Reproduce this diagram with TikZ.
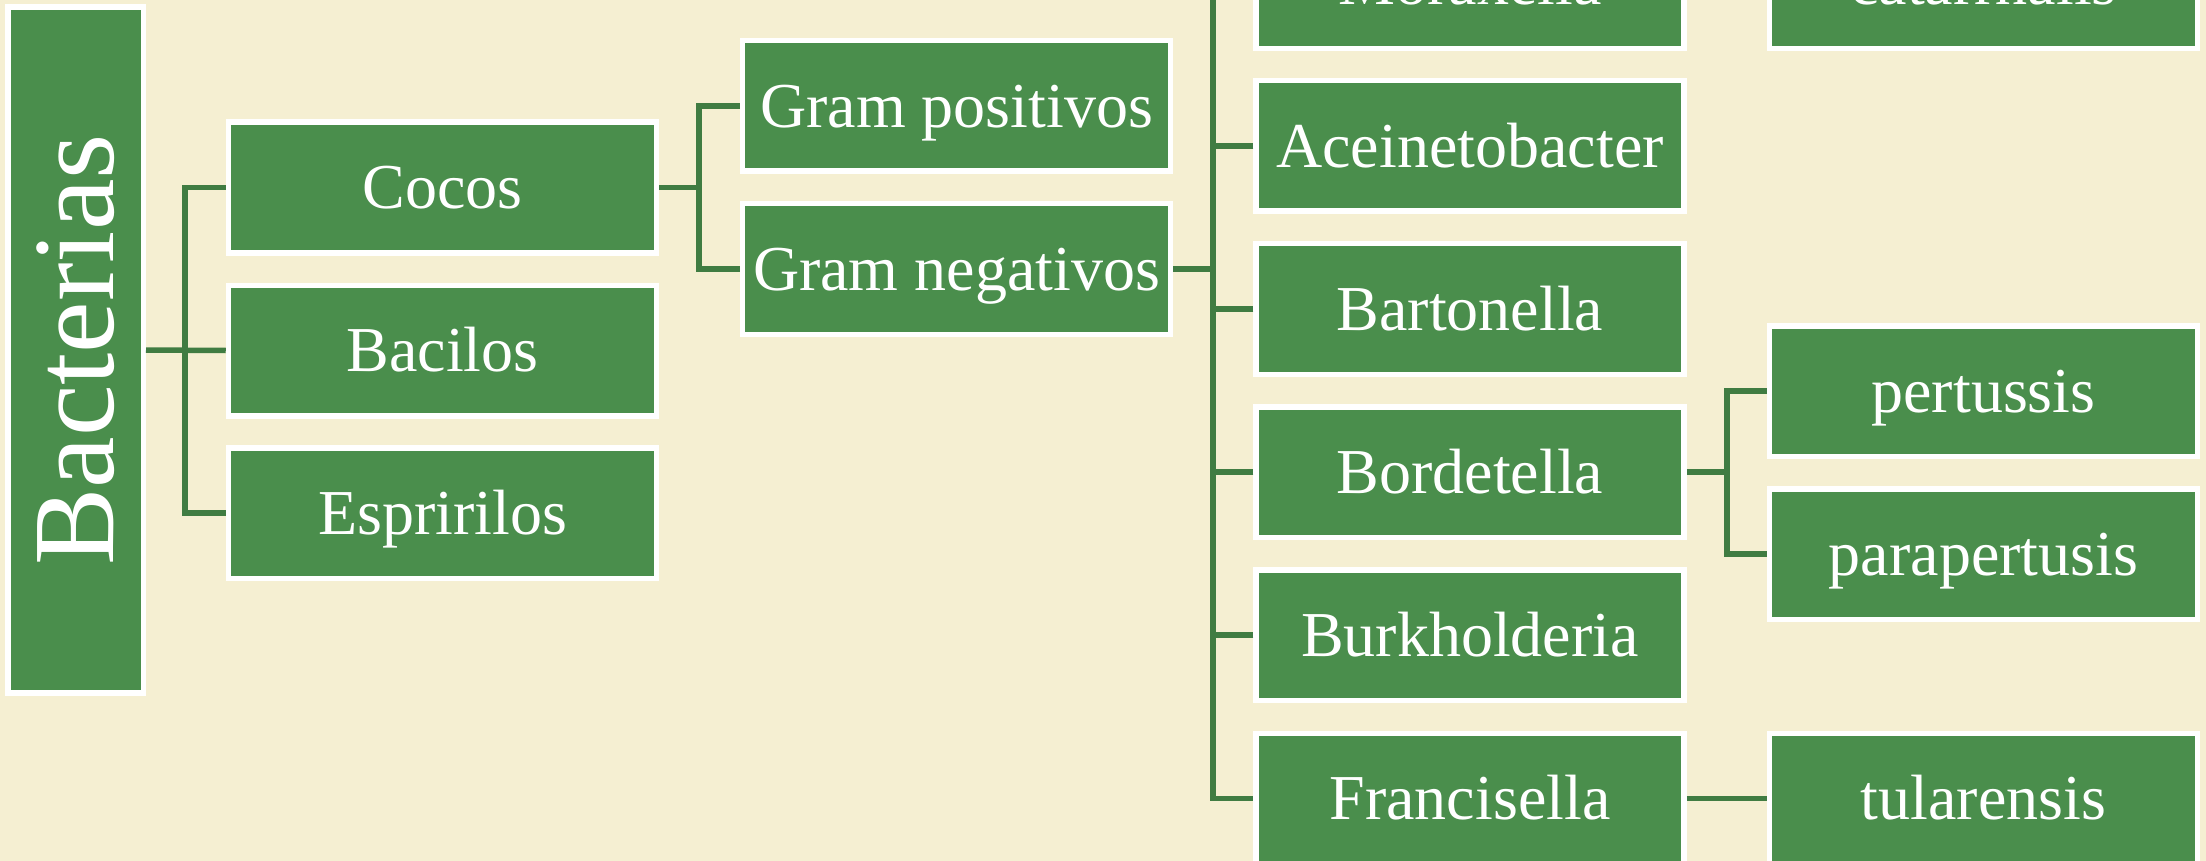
\documentclass[tikz,border=0pt]{standalone}
\usepackage{fontspec}
\setmainfont{Liberation Serif}
\definecolor{bgcream}{RGB}{245,239,210}
\definecolor{boxgreen}{RGB}{74,142,76}
\definecolor{linegreen}{RGB}{64,124,66}
\begin{document}
\begin{tikzpicture}[x=1pt,y=-1pt,
  box/.style={draw=white, line width=5.5pt, fill=boxgreen, text=white,
    minimum width=428pt, minimum height=130.5pt, inner sep=0pt,
    font=\fontsize{64}{70}\selectfont, text height=42.4pt, text depth=0pt},
  conn/.style={draw=linegreen, line width=5.5pt}]
\useasboundingbox (0,0) rectangle (2206,861);
\fill[bgcream] (0,0) rectangle (2206,861);
\clip (0,0) rectangle (2206,861);
% root
\node[box, minimum width=685.5pt, minimum height=135.5pt, rotate=90,
  font=\fontsize{116}{120}\selectfont, text height=76.5pt] (bac) at (75.5,350) {Bacterias};
% column 1
\node[box] (cocos) at (442.5,187.5) {Cocos};
\node[box] (bacilos) at (442.5,350.5) {Bacilos};
\node[box] (esp) at (442.5,513) {Espririlos};
% column 2
\node[box] (gpos) at (956.5,106) {Gram positivos};
\node[box] (gneg) at (956.5,269) {Gram negativos};
% column 3
\node[box] (mora) at (1470,-16.5) {Moraxella};
\node[box] (acein) at (1470,146) {Aceinetobacter};
\node[box] (barto) at (1470,309) {Bartonella};
\node[box] (borde) at (1470,472) {Bordetella};
\node[box] (burk) at (1470,635) {Burkholderia};
\node[box] (franc) at (1470,798.5) {Francisella};
% column 4
\node[box] (catar) at (1983.5,-16.5) {catarrhalis};
\node[box] (pert) at (1983.5,391) {pertussis};
\node[box] (parap) at (1983.5,554) {parapertusis};
\node[box] (tular) at (1983.5,798.5) {tularensis};
% connectors
\coordinate (j1) at (185,350);
\coordinate (j2) at (699,187.5);
\coordinate (j3) at (1213,-40);
\coordinate (j4) at (1727,472);
\draw[conn] (bac.south) -- (bacilos.west);
\draw[conn] (cocos.west) -| (j1) |- (esp.west);
\draw[conn] (gpos.west) -| (j2) |- (gneg.west);
\draw[conn] (cocos.east) -- (j2);
\draw[conn] (j3) |- (franc.west);
\draw[conn] (gneg.east) -- (gneg.east -| j3);
\draw[conn] (mora.west) -- (mora.west -| j3);
\draw[conn] (acein.west) -- (acein.west -| j3);
\draw[conn] (barto.west) -- (barto.west -| j3);
\draw[conn] (borde.west) -- (borde.west -| j3);
\draw[conn] (burk.west) -- (burk.west -| j3);
\draw[conn] (pert.west) -| (j4) |- (parap.west);
\draw[conn] (borde.east) -- (j4);
\draw[conn] (franc.east) -- (tular.west);
\end{tikzpicture}
\end{document}
